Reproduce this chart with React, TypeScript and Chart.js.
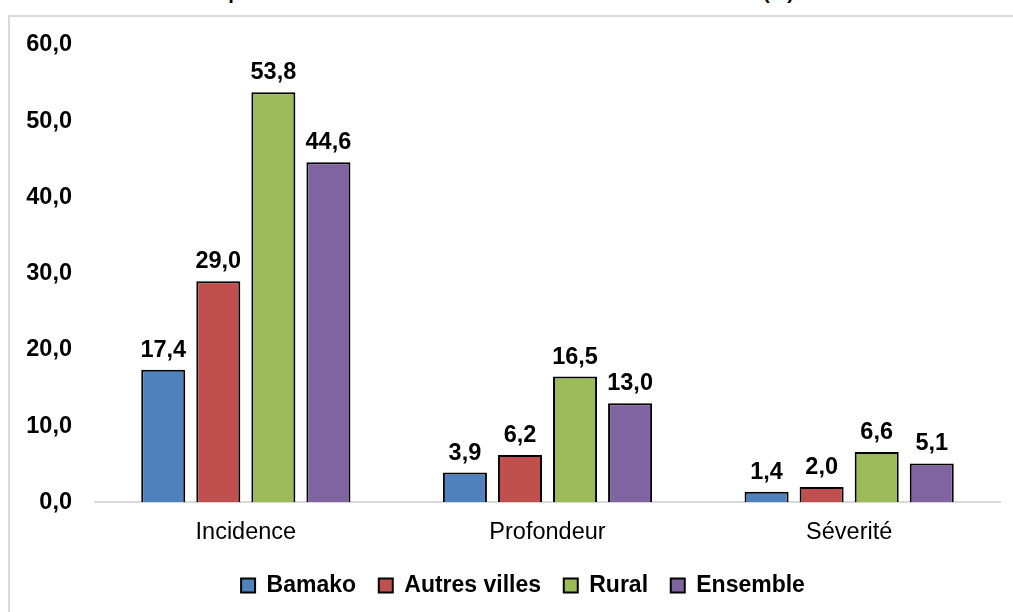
import React, { useEffect, useRef } from "react";
import { Chart, registerables } from "chart.js";

Chart.register(...registerables);

const categories = ["Incidence", "Profondeur", "Séverité"];
const seriesNames = ["Bamako", "Autres villes", "Rural", "Ensemble"];
const bamako = [17.4, 3.9, 1.4];
const autresVilles = [29.0, 6.2, 2.0];
const rural = [53.8, 16.5, 6.6];
const ensemble = [44.6, 13.0, 5.1];
const seriesColors = ["#4F81BD", "#C0504D", "#9BBB59", "#8064A2"];
const yMin = 0;
const yMax = 60;
const yStep = 10;
const titleText = "Indices de pauvreté monétaire selon le milieu de résidence en 2018 (%)";

const FONT = "'Liberation Sans', Arial, sans-serif";
const fmt = (v: number) => v.toFixed(1).replace(".", ",");

const valueLabels = {
  id: "valueLabels",
  afterDatasetsDraw(chart: any) {
    const ctx = chart.ctx;
    ctx.save();
    ctx.font = `bold 23.5px ${FONT}`;
    ctx.fillStyle = "#000";
    ctx.textAlign = "center";
    ctx.textBaseline = "alphabetic";
    chart.data.datasets.forEach((ds: any, i: number) => {
      const meta = chart.getDatasetMeta(i);
      meta.data.forEach((el: any, j: number) => {
        ctx.fillText(fmt(ds.data[j]), el.x, el.y - 13);
      });
    });
    ctx.restore();
  },
};

const legendShift = {
  id: "legendShift",
  afterLayout(chart: any) {
    if (chart.legend) {
      chart.legend.left += 23;
      chart.legend.right += 23;
    }
  },
};

export default function App() {
  const ref = useRef<HTMLCanvasElement>(null);
  useEffect(() => {
    if (!ref.current) return;
    const values = [bamako, autresVilles, rural, ensemble];
    const chart = new Chart(ref.current, {
      type: "bar",
      data: {
        labels: categories,
        datasets: seriesNames.map((name, i) => ({
          label: name,
          data: values[i],
          backgroundColor: seriesColors[i],
          borderColor: "#000",
          borderWidth: 2,
          barPercentage: 0.8,
          categoryPercentage: 0.73,
        })),
      },
      options: {
        responsive: false,
        animation: false,
        devicePixelRatio: 1,
        layout: { padding: { top: 45, right: 13, bottom: 5, left: 0 } },
        plugins: {
          title: { display: false },
          tooltip: { enabled: false },
          legend: {
            position: "bottom",
            labels: {
              font: { family: FONT, size: 23, weight: "bold" },
              color: "#000",
              boxWidth: 14,
              boxHeight: 14,
              padding: 22.7,
            },
          },
        },
        scales: {
          x: {
            grid: { display: false, drawTicks: false },
            border: { display: true, color: "#d9d9d9", width: 2 },
            ticks: {
              font: { family: FONT, size: 23.5 },
              color: "#000",
              padding: 16,
            },
            afterFit(scale: any) {
              scale.height = 49;
            },
          },
          y: {
            min: yMin,
            max: yMax,
            grid: { display: false, drawTicks: false },
            border: { display: false },
            ticks: {
              stepSize: yStep,
              font: { family: FONT, size: 23.5, weight: "bold" },
              color: "#000",
              padding: 23,
              callback: (v: any) => fmt(Number(v)),
            },
            afterFit(scale: any) {
              scale.width = 95;
            },
          },
        },
      },
      plugins: [valueLabels, legendShift],
    });
    return () => chart.destroy();
  }, []);

  return (
    <div style={{ position: "fixed", left: 0, top: 0, width: 1013, height: 612, overflow: "hidden", background: "#fff" }}>
      <div
        style={{
          position: "absolute",
          left: 126,
          top: -18,
          fontFamily: FONT,
          fontWeight: "bold",
          fontSize: 20,
          lineHeight: "20px",
          whiteSpace: "nowrap",
          color: "#000",
          letterSpacing: "-0.1px",
        }}
      >
        {titleText}
      </div>
      <div
        style={{
          position: "absolute",
          left: 8,
          top: 15,
          right: -10,
          bottom: -10,
          border: "2px solid #d9d9d9",
        }}
      />
      <canvas ref={ref} width={1013} height={612} style={{ position: "absolute", left: 0, top: 0 }} />
    </div>
  );
}
